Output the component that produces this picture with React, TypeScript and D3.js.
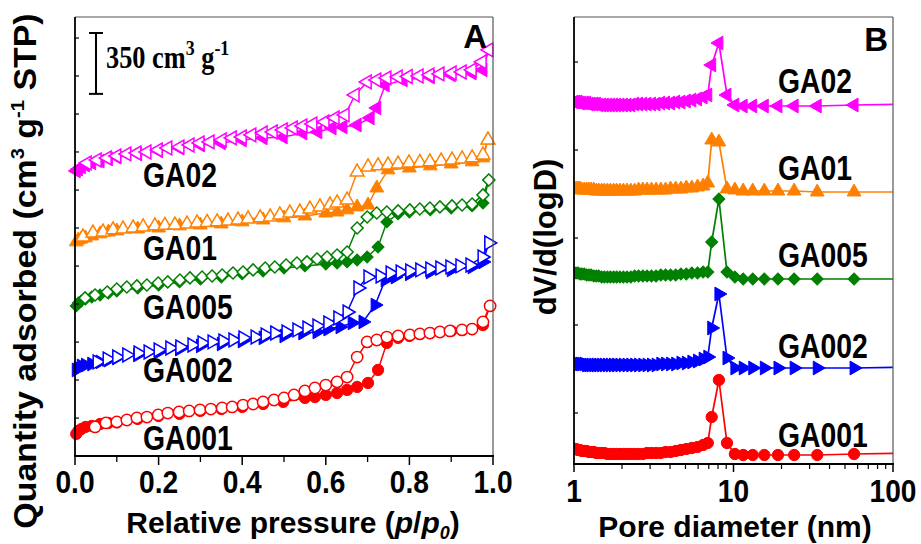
import React from 'react';
import * as d3 from 'd3';

const FONT = "'Liberation Sans', Arial, Helvetica, sans-serif";
const SERIF = "'Liberation Serif', 'Times New Roman', serif";

// ---------- Panel A: N2 isotherms (cm3 g-1 STP, curves stacked with offsets) ----------
const P_MAJOR = [0, 0.2, 0.4, 0.6, 0.8, 1.0];
const P_MINOR = [0.1, 0.3, 0.5, 0.7, 0.9];
const A_Y_TICKS = [218, 437, 655, 874, 1092, 1311, 1529, 1748, 1966, 2185, 2403];
const SCALE_BAR_TOP = 2432;
const SCALE_BAR_LEN = 350;

const GA001_ADS: [number, number][] = [[0.003,127],[0.008,144],[0.015,155],[0.025,167],[0.04,173],[0.06,184],[0.08,190],[0.1,193],[0.15,213],[0.2,230],[0.25,242],[0.3,259],[0.35,270],[0.4,282],[0.45,299],[0.498,311],[0.55,334],[0.574,339],[0.6,351],[0.627,362],[0.651,380],[0.675,397],[0.701,420],[0.725,495],[0.746,650],[0.773,679],[0.8,690],[0.85,707],[0.9,719],[0.95,730],[0.976,753],[0.993,863]];
const GA001_DES: [number, number][] = [[0.048,167],[0.074,190],[0.100,196],[0.124,207],[0.148,219],[0.172,224],[0.199,236],[0.222,247],[0.249,253],[0.273,259],[0.299,265],[0.325,270],[0.352,276],[0.376,282],[0.402,293],[0.426,299],[0.450,311],[0.476,322],[0.500,334],[0.524,351],[0.550,374],[0.574,391],[0.600,408],[0.627,426],[0.651,454],[0.675,569],[0.699,656],[0.722,667],[0.746,684],[0.773,690],[0.801,696],[0.825,702],[0.849,707],[0.873,713],[0.897,719],[0.926,725],[0.950,730],[0.976,771],[0.993,863]];

const GA002_ADS: [number, number][] = [[0.003,495],[0.008,506],[0.015,518],[0.025,523],[0.04,529],[0.06,541],[0.08,552],[0.1,564],[0.15,581],[0.2,598],[0.25,615],[0.3,633],[0.35,644],[0.4,661],[0.45,679],[0.5,690],[0.545,707],[0.579,713],[0.605,730],[0.634,742],[0.663,765],[0.689,771],[0.718,868],[0.742,1012],[0.766,1029],[0.8,1047],[0.85,1058],[0.9,1070],[0.95,1087],[0.976,1116],[0.990,1225]];
const GA002_DES: [number, number][] = [[0.053,541],[0.077,558],[0.100,569],[0.124,581],[0.151,592],[0.175,598],[0.199,610],[0.227,621],[0.251,627],[0.280,638],[0.304,650],[0.328,656],[0.354,661],[0.378,667],[0.402,679],[0.431,684],[0.455,696],[0.478,707],[0.505,713],[0.531,725],[0.555,736],[0.579,748],[0.605,765],[0.629,794],[0.651,828],[0.677,966],[0.701,1029],[0.730,1035],[0.754,1052],[0.778,1058],[0.801,1064],[0.825,1070],[0.849,1075],[0.873,1081],[0.897,1087],[0.921,1093],[0.945,1098],[0.974,1144],[0.990,1225]];

const GA005_ADS: [number, number][] = [[0.003,863],[0.008,880],[0.015,891],[0.025,903],[0.04,914],[0.06,926],[0.08,937],[0.1,949],[0.15,966],[0.2,983],[0.25,1001],[0.3,1018],[0.35,1029],[0.4,1047],[0.45,1064],[0.5,1081],[0.55,1093],[0.6,1104],[0.627,1110],[0.651,1116],[0.675,1127],[0.699,1144],[0.725,1202],[0.746,1346],[0.773,1392],[0.8,1403],[0.85,1415],[0.9,1426],[0.95,1438],[0.976,1455],[0.990,1587]];
const GA005_DES: [number, number][] = [[0.024,909],[0.048,926],[0.077,943],[0.100,960],[0.124,972],[0.148,978],[0.172,983],[0.199,995],[0.222,1001],[0.251,1012],[0.275,1024],[0.304,1029],[0.328,1035],[0.352,1041],[0.378,1052],[0.402,1058],[0.426,1070],[0.455,1081],[0.478,1087],[0.505,1098],[0.531,1110],[0.555,1116],[0.579,1133],[0.603,1144],[0.627,1156],[0.651,1173],[0.675,1311],[0.699,1374],[0.722,1397],[0.746,1403],[0.773,1409],[0.801,1415],[0.825,1420],[0.849,1426],[0.873,1432],[0.902,1438],[0.926,1443],[0.950,1449],[0.976,1501],[0.990,1587]];

const GA01_ADS: [number, number][] = [[0.003,1231],[0.008,1242],[0.015,1248],[0.025,1254],[0.04,1265],[0.06,1277],[0.08,1288],[0.1,1294],[0.15,1305],[0.2,1311],[0.25,1323],[0.3,1328],[0.35,1334],[0.4,1346],[0.45,1357],[0.5,1369],[0.55,1380],[0.6,1397],[0.627,1403],[0.651,1415],[0.675,1432],[0.701,1443],[0.722,1541],[0.749,1645],[0.8,1656],[0.85,1668],[0.9,1679],[0.95,1691],[0.976,1714],[0.988,1817]];
const GA01_DES: [number, number][] = [[0.019,1259],[0.043,1282],[0.067,1288],[0.091,1300],[0.115,1305],[0.139,1311],[0.163,1317],[0.191,1323],[0.215,1326],[0.239,1328],[0.268,1334],[0.292,1340],[0.316,1343],[0.340,1346],[0.366,1351],[0.390,1357],[0.414,1363],[0.443,1369],[0.467,1374],[0.490,1386],[0.514,1397],[0.538,1403],[0.562,1420],[0.586,1432],[0.610,1443],[0.627,1455],[0.651,1472],[0.675,1633],[0.701,1662],[0.725,1668],[0.749,1673],[0.773,1679],[0.799,1685],[0.825,1688],[0.849,1691],[0.876,1696],[0.902,1702],[0.926,1708],[0.950,1714],[0.976,1731],[0.988,1817]];

const GA02_ADS: [number, number][] = [[0.003,1639],[0.008,1650],[0.015,1662],[0.025,1673],[0.04,1685],[0.06,1696],[0.08,1708],[0.1,1719],[0.15,1737],[0.2,1754],[0.25,1771],[0.3,1788],[0.35,1800],[0.4,1817],[0.45,1829],[0.498,1834],[0.545,1857],[0.581,1863],[0.615,1886],[0.641,1892],[0.675,1903],[0.706,1944],[0.722,2001],[0.742,2133],[0.785,2162],[0.85,2179],[0.9,2191],[0.95,2202],[0.976,2220],[0.990,2335]];
const GA02_DES: [number, number][] = [[0.029,1685],[0.053,1702],[0.077,1714],[0.100,1725],[0.124,1737],[0.148,1742],[0.172,1748],[0.199,1760],[0.222,1771],[0.251,1777],[0.275,1788],[0.299,1800],[0.323,1806],[0.352,1817],[0.376,1829],[0.400,1834],[0.423,1846],[0.450,1857],[0.474,1863],[0.498,1875],[0.522,1886],[0.545,1898],[0.569,1909],[0.598,1921],[0.622,1944],[0.646,1961],[0.670,2076],[0.699,2151],[0.722,2162],[0.746,2174],[0.773,2179],[0.797,2182],[0.823,2185],[0.849,2191],[0.873,2197],[0.902,2202],[0.926,2208],[0.950,2220],[0.974,2266],[0.990,2335]];

// ---------- Panel B: pore size distributions (a.u., stacked) ----------
const D_MAJOR = [1, 10, 100];
const D_MINOR = [2, 3, 4, 5, 6, 7, 8, 9, 20, 30, 40, 50, 60, 70, 80, 90];
const B_Y_TICKS = [37, 125, 212, 300, 388];
const PSD_D_LOW = [1.00,1.03,1.06,1.09,1.12,1.16,1.20,1.24,1.28,1.33,1.38,1.43,1.49,1.55,1.62,1.69,1.77,1.85,1.94,2.04,2.15,2.27,2.40,2.54,2.70,2.87,3.06,3.27,3.50,3.75,4.03,4.34,4.68,5.06,5.48,5.95,6.45];
const PSD_D_HIGH = [6.9,7.3,8.1,9.1,10.2,11.5,13.2,15.6,19.0,24.0,33.5,57.0,150];

const GA001_PSD_LOW = [1,1,0,0,-1,-1,-1,-2,-2,-2,-3,-3,-3,-3,-4,-4,-4,-4,-4,-4,-4,-4,-4,-4,-4,-3,-3,-3,-3,-2,-2,-1,0,1,2,3,5];
const GA001_PSD_HIGH = [7,33,70,7,-4,-5,-5,-5,-5,-5,-5,-4,-3];
const GA002_PSD_LOW = [0,0,0,0,0,0,-1,-1,-1,-1,-1,-1,-1,-1,-1,-1,-1,-1,-1,-1,-1,-1,-1,-1,-1,-1,-1,-1,0,0,0,0,1,1,2,3,5];
const GA002_PSD_HIGH = [7,36,70,6,-4,-4,-4,-4,-4,-4,-4,-4,-3];
const GA005_PSD_LOW = [2,2,2,1,1,1,0,0,0,-1,-1,-1,-2,-2,-2,-2,-2,-2,-2,-2,-2,-2,-1,-1,-1,-1,-1,-1,0,0,0,0,1,1,2,2,3];
const GA005_PSD_HIGH = [3,33,76,3,-2,-4,-4,-4,-4,-4,-4,-4,-4];
const GA01_PSD_LOW = [1,1,1,1,0,0,0,0,0,0,-1,-1,-1,-1,-1,-1,-1,-1,-1,-1,-1,-1,-1,0,0,0,0,0,0,0,1,1,1,2,2,3,4];
const GA01_PSD_HIGH = [7,50,48,1,0,-1,-1,-1,-1,-1,-2,-2,-2];
const GA02_PSD_LOW = [1,1,1,0,0,0,0,-1,-1,-1,-1,-2,-2,-2,-2,-2,-2,-2,-2,-2,-2,-2,-1,-1,-1,-1,-1,-1,0,0,0,1,1,2,3,4,6];
const GA02_PSD_HIGH = [8,38,60,8,-2,-3,-3,-3,-3,-3,-3,-2,-1];
const PSD_OFFSETS = [0, 86, 175, 260, 347];

const SAMPLE_NAMES = ['GA001', 'GA002', 'GA005', 'GA01', 'GA02'];
const COLORS = ['#ff0000', '#0000ff', '#008000', '#ff8000', '#ff00ff'];
const SHAPES = ['circle', 'triRight', 'diamond', 'triUp', 'triLeft'];

const ISO_ADS = [GA001_ADS, GA002_ADS, GA005_ADS, GA01_ADS, GA02_ADS];
const ISO_DES = [GA001_DES, GA002_DES, GA005_DES, GA01_DES, GA02_DES];
const PSD_LOW = [GA001_PSD_LOW, GA002_PSD_LOW, GA005_PSD_LOW, GA01_PSD_LOW, GA02_PSD_LOW];
const PSD_HIGH = [GA001_PSD_HIGH, GA002_PSD_HIGH, GA005_PSD_HIGH, GA01_PSD_HIGH, GA02_PSD_HIGH];

const LABEL_A_Y = [450, 382, 319, 260, 187];
const LABEL_B_Y = [447, 358, 267, 180, 93];

const circlePath = d3.symbol().type(d3.symbolCircle).size(100)() as string;
const triPath = d3.symbol().type(d3.symbolTriangle).size(82)() as string;
const squarePath = d3.symbol().type(d3.symbolSquare).size(72)() as string;

function markerFor(shape: string): { d: string; rot: number } {
  if (shape === 'circle') return { d: circlePath, rot: 0 };
  if (shape === 'diamond') return { d: squarePath, rot: 45 };
  if (shape === 'triUp') return { d: triPath, rot: 0 };
  if (shape === 'triRight') return { d: triPath, rot: 90 };
  return { d: triPath, rot: -90 };
}

export default function App() {
  const A = { l: 75, r: 493, t: 17, b: 456 };
  const B = { l: 574, r: 893, t: 17, b: 464 };

  const xA = d3.scaleLinear().domain([0, 1]).range([A.l, A.r]);
  const yA = d3.scaleLinear().domain([0, 2524]).range([A.b, A.t]);
  const xB = d3.scaleLog().domain([1, 100]).range([B.l, B.r]);
  const yB = d3.scaleLinear().domain([-14, 433]).range([B.b, B.t]);

  const lineA = d3.line<[number, number]>().x(d => xA(d[0])).y(d => yA(d[1]));
  const lineB = d3.line<[number, number]>().x(d => xB(d[0])).y(d => yB(d[1]));

  const psdSeries: [number, number][][] = SAMPLE_NAMES.map((_, i) => {
    const pts: [number, number][] = [];
    PSD_D_LOW.forEach((d, j) => pts.push([d, PSD_LOW[i][j] + PSD_OFFSETS[i]]));
    PSD_D_HIGH.forEach((d, j) => pts.push([d, PSD_HIGH[i][j] + PSD_OFFSETS[i]]));
    return pts;
  });

  const tickFont = { fontFamily: FONT, fontWeight: 700, fontSize: 32 } as const;

  return (
    <svg width={921} height={544} style={{ position: 'absolute', left: 0, top: 0, background: '#fff' }}>
      <defs>
        <clipPath id="clipB"><rect x={B.l} y={B.t} width={B.r - B.l} height={B.b - B.t} /></clipPath>
        <clipPath id="clipA"><rect x={A.l - 8} y={A.t} width={A.r - A.l + 16} height={A.b - A.t} /></clipPath>
      </defs>
      <rect x={0} y={0} width={921} height={544} fill="#fff" />

      {/* ---------- Panel A ---------- */}
      <g clipPath="url(#clipA)">
        {SAMPLE_NAMES.map((n, i) => (
          <g key={'la' + n} fill="none" stroke={COLORS[i]} strokeWidth={1.5}>
            <path d={lineA(ISO_ADS[i]) as string} />
            <path d={lineA(ISO_DES[i]) as string} />
          </g>
        ))}
        {SAMPLE_NAMES.map((n, i) => {
          const m = markerFor(SHAPES[i]);
          return (
            <g key={'ma' + n}>
              {ISO_ADS[i].map((d, j) => (
                <path key={'f' + j} d={m.d} transform={`translate(${xA(d[0])},${yA(d[1])}) rotate(${m.rot})`} fill={COLORS[i]} stroke={COLORS[i]} strokeWidth={1} />
              ))}
              {ISO_DES[i].map((d, j) => (
                <path key={'o' + j} d={m.d} transform={`translate(${xA(d[0])},${yA(d[1])}) rotate(${m.rot})`} fill="#fff" stroke={COLORS[i]} strokeWidth={1.5} />
              ))}
            </g>
          );
        })}
      </g>

      {/* frame A */}
      <line x1={A.l} y1={A.t} x2={A.r} y2={A.t} stroke="#555" strokeWidth={1.2} />
      <line x1={A.r} y1={A.t} x2={A.r} y2={A.b} stroke="#555" strokeWidth={1.2} />
      <line x1={A.l} y1={A.t} x2={A.l} y2={A.b + 1} stroke="#000" strokeWidth={1.8} />
      <line x1={A.l - 1} y1={A.b} x2={A.r + 1} y2={A.b} stroke="#000" strokeWidth={1.8} />
      {P_MAJOR.map(p => (
        <line key={'pM' + p} x1={xA(p)} x2={xA(p)} y1={A.b} y2={A.b + 9} stroke="#000" strokeWidth={1.5} />
      ))}
      {P_MINOR.map(p => (
        <line key={'pm' + p} x1={xA(p)} x2={xA(p)} y1={A.b} y2={A.b + 6} stroke="#000" strokeWidth={1.3} />
      ))}
      {A_Y_TICKS.map(v => (
        <line key={'ay' + v} x1={A.l} x2={A.l + 4} y1={yA(v)} y2={yA(v)} stroke="#000" strokeWidth={1.2} />
      ))}
      {P_MAJOR.map(p => (
        <text key={'pl' + p} transform={`translate(${xA(p)},493) scale(0.88,1)`} textAnchor="middle" {...tickFont}>
          {d3.format('.1f')(p)}
        </text>
      ))}
      <text transform="translate(293,533)" textAnchor="middle" fontFamily={FONT} fontWeight={700} fontSize={30}>
        Relative pressure (<tspan fontStyle="italic">p</tspan>/<tspan fontStyle="italic">p</tspan>
        <tspan fontStyle="italic" fontSize={18} dy={6}>0</tspan><tspan dy={-6}>)</tspan>
      </text>
      <text transform="translate(36,271) rotate(-90) scale(1.06,1)" textAnchor="middle" fontFamily={FONT} fontWeight={700} fontSize={32}>
        Quantity adsorbed (cm<tspan fontSize={19} dy={-12}>3</tspan><tspan dy={12}> g</tspan>
        <tspan fontSize={19} dy={-12}>-1</tspan><tspan dy={12}> STP)</tspan>
      </text>
      <text transform="translate(487,48)" textAnchor="end" fontFamily={FONT} fontWeight={700} fontSize={33}>A</text>

      {/* scale bar */}
      <g stroke="#000" strokeWidth={2}>
        <line x1={96} x2={96} y1={yA(SCALE_BAR_TOP)} y2={yA(SCALE_BAR_TOP - SCALE_BAR_LEN)} />
        <line x1={89} x2={103} y1={yA(SCALE_BAR_TOP)} y2={yA(SCALE_BAR_TOP)} />
        <line x1={89} x2={103} y1={yA(SCALE_BAR_TOP - SCALE_BAR_LEN)} y2={yA(SCALE_BAR_TOP - SCALE_BAR_LEN)} />
      </g>
      <text transform="translate(106,68) scale(0.85,1)" fontFamily={SERIF} fontWeight={700} fontSize={31}>
        350 cm<tspan fontSize={21} dy={-13}>3</tspan><tspan dy={13}> g</tspan><tspan fontSize={21} dy={-13}>-1</tspan>
      </text>

      {SAMPLE_NAMES.map((n, i) => (
        <text key={'ta' + n} transform={`translate(143,${LABEL_A_Y[i]}) scale(0.81,1)`} fontFamily={FONT} fontWeight={700} fontSize={35}>{n}</text>
      ))}

      {/* ---------- Panel B ---------- */}
      <g clipPath="url(#clipB)">
        {SAMPLE_NAMES.map((n, i) => (
          <path key={'lb' + n} d={lineB(psdSeries[i]) as string} fill="none" stroke={COLORS[i]} strokeWidth={1.7} />
        ))}
        {SAMPLE_NAMES.map((n, i) => {
          const m = markerFor(SHAPES[i]);
          return (
            <g key={'mb' + n}>
              {psdSeries[i].map((d, j) => (
                <path key={j} d={m.d} transform={`translate(${xB(d[0])},${yB(d[1])}) rotate(${m.rot})`} fill={COLORS[i]} stroke={COLORS[i]} strokeWidth={1} />
              ))}
            </g>
          );
        })}
      </g>
      <line x1={B.l} y1={B.t} x2={B.r} y2={B.t} stroke="#555" strokeWidth={1.2} />
      <line x1={B.r} y1={B.t} x2={B.r} y2={B.b} stroke="#555" strokeWidth={1.2} />
      <line x1={B.l} y1={B.t} x2={B.l} y2={B.b + 1} stroke="#000" strokeWidth={1.8} />
      <line x1={B.l - 1} y1={B.b} x2={B.r + 1} y2={B.b} stroke="#000" strokeWidth={1.8} />
      {D_MAJOR.map(d => (
        <line key={'dM' + d} x1={xB(d)} x2={xB(d)} y1={B.b} y2={B.b + 8} stroke="#000" strokeWidth={1.5} />
      ))}
      {D_MINOR.map(d => (
        <line key={'dm' + d} x1={xB(d)} x2={xB(d)} y1={B.b} y2={B.b + 5} stroke="#000" strokeWidth={1.2} />
      ))}
      {B_Y_TICKS.map(v => (
        <line key={'by' + v} x1={B.l} x2={B.l + 4} y1={yB(v)} y2={yB(v)} stroke="#000" strokeWidth={1.2} />
      ))}
      {D_MAJOR.map(d => (
        <text key={'dl' + d} transform={`translate(${xB(d)},502) scale(0.88,1)`} textAnchor="middle" {...tickFont}>{String(d)}</text>
      ))}
      <text transform="translate(735,537)" textAnchor="middle" fontFamily={FONT} fontWeight={700} fontSize={30}>Pore diameter (nm)</text>
      <text transform="translate(556,237) rotate(-90)" textAnchor="middle" fontFamily={FONT} fontWeight={700} fontSize={31}>dV/d(logD)</text>
      <text transform="translate(888,51)" textAnchor="end" fontFamily={FONT} fontWeight={700} fontSize={33}>B</text>
      {SAMPLE_NAMES.map((n, i) => (
        <text key={'tb' + n} transform={`translate(778,${LABEL_B_Y[i]}) scale(0.81,1)`} fontFamily={FONT} fontWeight={700} fontSize={35}>{n}</text>
      ))}
    </svg>
  );
}
